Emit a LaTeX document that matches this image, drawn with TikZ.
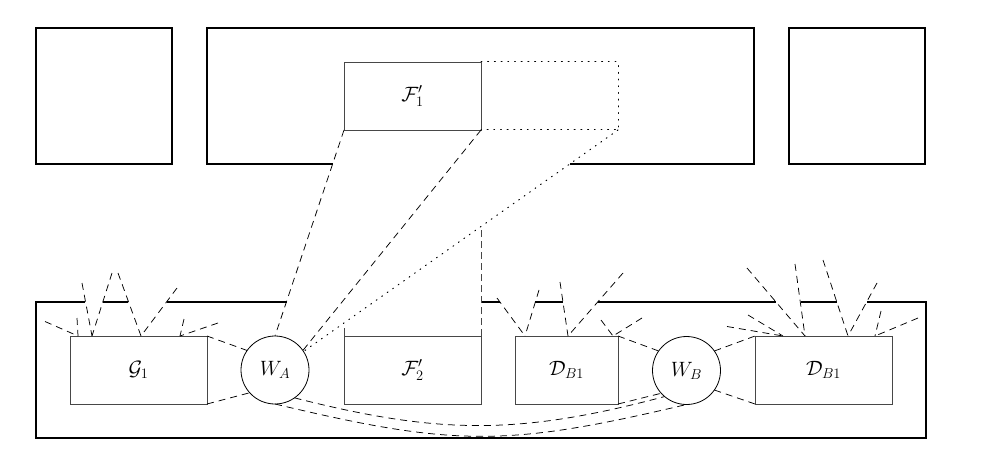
\documentclass[tikz,border=0pt]{standalone}
\newcommand{\diagfont}{\fontsize{20}{24}\selectfont}
\begin{document}
\begin{tikzpicture}[x=1pt,y=-1pt,
  frame/.style={line width=1.3pt, line join=miter},
  box/.style={draw=black!72, line width=0.9pt, minimum width=137pt, minimum height=68pt, inner sep=0pt, outer sep=0pt, font=\diagfont},
  agent/.style={draw=black, circle, line width=0.8pt, minimum size=68pt, inner sep=0pt, outer sep=0pt, font=\diagfont},
  link/.style={line width=0.75pt, dash pattern=on 7pt off 5pt},
  proj/.style={draw=black!72, line width=0.9pt, dash pattern=on 7pt off 4pt},
  edge/.style={draw=black!72, line width=0.9pt},
  dots/.style={line width=1pt, dash pattern=on 0.9pt off 5.8pt, line cap=round},
]
\useasboundingbox (0,0) rectangle (998,468);

% outer frames
\draw[frame] (36,28) rectangle (172,164);
\draw[frame] (789,28) rectangle (925,164);
\draw[frame] (333,164) -- (207,164) -- (207,28) -- (754,28) -- (754,164) -- (570,164);
\draw[frame] (85,302) -- (36,302) -- (36,438) -- (926,438) -- (926,302) -- (867,302);
\draw[frame] (103,302) -- (128,302) (167,302) -- (287,302) (481,302) -- (500,302)
  (535,302) -- (563,302) (598,302) -- (776,302) (801,302) -- (837,302);

% nodes
\node[box] (F1) at (412.5,96) {$\mathcal{F}'_1$};
\node[box] (G1) at (138.5,370) {$\mathcal{G}_1$};
\node[box] (F2) at (412.5,370) {$\mathcal{F}'_2$};
\node[box, minimum width=103pt] (D1) at (566.5,370) {$\mathcal{D}_{B1}$};
\node[box] (D2) at (823.5,370) {$\mathcal{D}_{B1}$};
\node[agent] (WA) at (275,370) {$W_A$};
\node[agent] (WB) at (686.5,370.5) {$W_B$};

% projection of F1'
\coordinate (P1) at (618,62);
\coordinate (P2) at (618,130);
\coordinate (Q) at (481,226.5);
\coordinate (F2L) at (344,328);
\draw[dots] (F1.north east) -- (P1) -- (P2) -- (F1.south east);
\draw[link] (F1.south west) -- (WA.north);
\draw[link] (F1.south east) -- (WA.35);
\draw[dots] (P2) -- (WA.33);
\draw[proj] (F2.north east) -- (Q);
\draw[edge] (F2.north west) -- (F2L);

% links to agents
\draw[link] (G1.north east) -- (WA.145);
\draw[link] (G1.south east) -- (WA.222);
\draw[link] (D1.north east) -- (WB.145);
\draw[link] (D1.south east) -- (WB.222);
\draw[link] (WB.35) -- (D2.north west);
\draw[link] (WB.-35) -- (D2.south west);
\draw[link] (WA.south) .. controls (455,447) and (507,447) .. (WB.south);
\draw[link] (WA.-55) .. controls (440,435) and (520,435) .. (WB.230);

% rays
\coordinate (ga) at (78,336);  \coordinate (ga1) at (45,321.5); \coordinate (ga2) at (77,318);
\coordinate (gb) at (92,336);  \coordinate (gb1) at (82,283);   \coordinate (gb2) at (112,273);
\coordinate (gc) at (141,336); \coordinate (gc1) at (118,273);  \coordinate (gc2) at (177,288);
\coordinate (gd) at (180,336); \coordinate (gd1) at (184,319);  \coordinate (gd2) at (218,323);
\coordinate (da) at (525,336); \coordinate (da1) at (497,298);  \coordinate (da2) at (539,290);
\coordinate (db) at (568,336); \coordinate (db1) at (560,282);  \coordinate (db2) at (623,273);
\coordinate (dc) at (613,336); \coordinate (dc1) at (601,320);  \coordinate (dc2) at (642,318);
\coordinate (ea) at (783,336); \coordinate (ea1) at (727,326.5);\coordinate (ea2) at (748,315);
\coordinate (eb) at (805,336); \coordinate (eb1) at (747,268);  \coordinate (eb2) at (795,264);
\coordinate (ec) at (848,336); \coordinate (ec1) at (823,260);  \coordinate (ec2) at (877,283);
\coordinate (ed) at (875,336); \coordinate (ed1) at (881,311);  \coordinate (ed2) at (918,318);
\foreach \r in {ga,gb,gc,gd,da,db,dc,ea,eb,ec,ed}{
  \draw[link] (\r1) -- (\r);
  \draw[link] (\r2) -- (\r);
}
\end{tikzpicture}
\end{document}
